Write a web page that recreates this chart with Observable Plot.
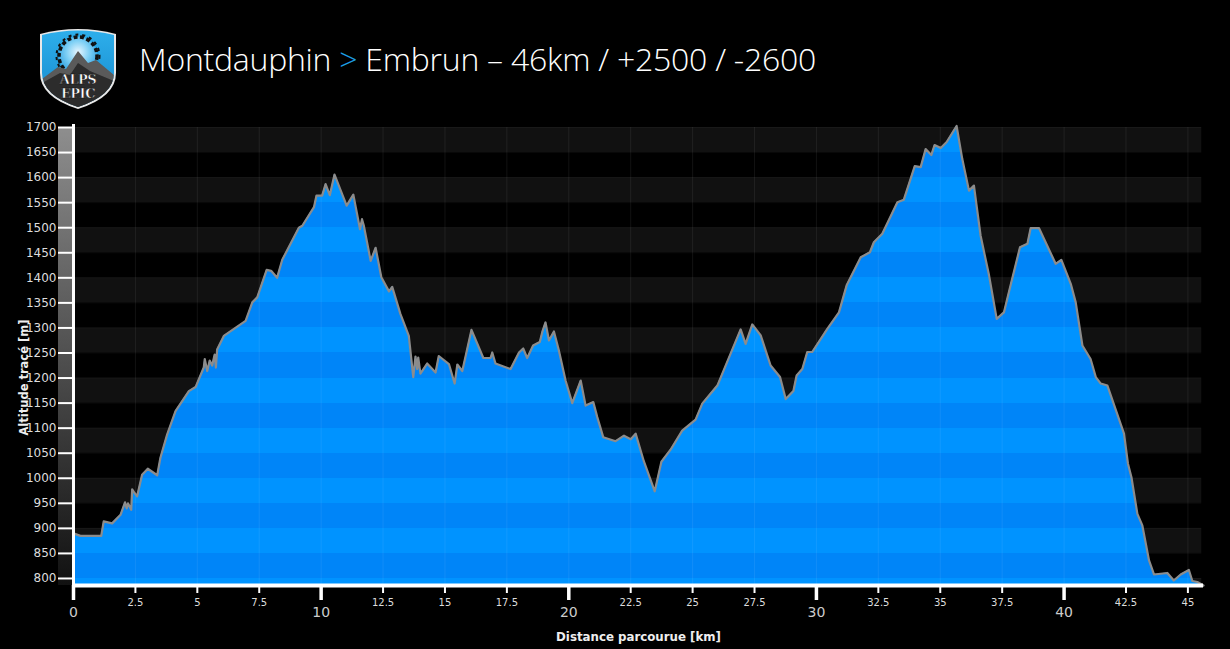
<!DOCTYPE html>
<html>
<head>
<meta charset="utf-8">
<script src="https://cdn.jsdelivr.net/npm/d3@7"></script>
<script src="https://cdn.jsdelivr.net/npm/@observablehq/plot@0.6"></script>
<style>
  html, body { margin: 0; padding: 0; background: #000; }
  #wrap { position: relative; width: 1230px; height: 649px; background: #000; overflow: hidden; }
  #title { position: absolute; left: 139px; top: 43px; font-family: "Open Sans", sans-serif; font-weight: 300; font-size: 32px; color: #fff; white-space: nowrap; line-height: 1; letter-spacing: -0.25px; }
  #title .gt { color: #1d9ee4; }
  #logo { position: absolute; left: 38px; top: 27px; }
  #chart { position: absolute; left: 0; top: 0; }
</style>
</head>
<body>
<div id="wrap">
  <div id="chart"></div>
  <svg id="logo" width="80" height="82" viewBox="0 0 80 82">
    <defs>
      <linearGradient id="lgBlue" x1="0" y1="0" x2="0" y2="1">
        <stop offset="0" stop-color="#2fb0ec"/>
        <stop offset="1" stop-color="#1488cc"/>
      </linearGradient>
      <radialGradient id="lgSky" cx="0.5" cy="0.4" r="0.6">
        <stop offset="0" stop-color="#e8f6ff"/>
        <stop offset="0.5" stop-color="#7fd0f5"/>
        <stop offset="1" stop-color="#2a9fe0"/>
      </radialGradient>
      <clipPath id="shieldClip">
        <path d="M4,8 Q40,-1 76,8 L76,46 Q76,68 40,80 Q4,68 4,46 Z"/>
      </clipPath>
    </defs>
    <path d="M2,7 Q40,-3 78,7 L78,46 Q78,70 40,82 Q2,70 2,46 Z" fill="#e8e8e8"/>
    <g clip-path="url(#shieldClip)">
      <rect x="0" y="0" width="80" height="82" fill="url(#lgBlue)"/>
      <circle cx="40" cy="29" r="19" fill="url(#lgSky)"/>
      <circle cx="40" cy="29" r="19" fill="none" stroke="#111" stroke-width="3.5" stroke-dasharray="4 2.5"/>
      <circle cx="40" cy="29" r="21.5" fill="none" stroke="#111" stroke-width="2" stroke-dasharray="3 4"/>
      <path d="M4,52 L20,40 L28,42 L40,24 L50,36 L58,33 L76,48 L76,82 L4,82 Z" fill="#5a5a5a"/>
      <path d="M4,56 L22,46 L32,48 L40,36 L52,44 L76,54 L76,82 L4,82 Z" fill="#2c2c2c"/>
    </g>
    <text x="40" y="57" text-anchor="middle" font-family="DejaVu Serif, serif" font-weight="bold" font-size="13" fill="#fff" stroke="#111" stroke-width="0.5" letter-spacing="-0.5">ALPS</text>
    <text x="40" y="71" text-anchor="middle" font-family="DejaVu Serif, serif" font-weight="bold" font-size="13" fill="#fff" stroke="#111" stroke-width="0.5" letter-spacing="-0.5">EPIC</text>
  </svg>
  <div id="title">Montdauphin <span class="gt">&gt;</span> Embrun – 46km / +2500 / -2600</div>
</div>
<script>
const km = [0, 0.28, 1.12, 1.22, 1.56, 1.9, 2.08, 2.15, 2.2, 2.33, 2.37, 2.45, 2.57, 2.77, 3.0, 3.38, 3.51, 3.78, 4.12, 4.66, 4.93,
  5.26, 5.3, 5.4, 5.5, 5.6, 5.7, 5.75, 5.8, 6.07, 6.95, 7.22, 7.42, 7.8, 7.98, 8.22, 8.43, 9.1, 9.24, 9.71, 9.81, 10.04,
  10.18, 10.35, 10.54, 11.03, 11.3, 11.57, 11.65, 11.72, 12.0, 12.2, 12.43, 12.74, 12.87, 13.2, 13.54, 13.72, 13.81, 13.88,
  13.92, 14.01, 14.28, 14.62, 14.75, 15.16, 15.39, 15.5, 15.7, 16.07, 16.55, 16.84, 16.91, 17.04, 17.65, 17.99, 18.16, 18.32,
  18.56, 18.83, 18.93, 19.06, 19.2, 19.4, 19.6, 19.87, 20.14, 20.48, 20.68, 20.99, 21.15, 21.39, 21.89, 22.23, 22.5, 22.7,
  23.03, 23.47, 23.74, 24.11, 24.58, 25.12, 25.39, 26.0, 26.94, 27.14, 27.41, 27.75, 28.15, 28.53, 28.76, 29.07, 29.2, 29.43,
  29.63, 29.83, 30.44, 30.91, 31.22, 31.79, 32.16, 32.32, 32.66, 33.27, 33.53, 33.97, 34.21, 34.41, 34.64, 34.77, 35.02, 35.26,
  35.66, 35.89, 36.16, 36.36, 36.63, 36.97, 37.28, 37.57, 37.84, 38.22, 38.52, 38.65, 38.99, 39.66, 39.89, 40.27, 40.47, 40.74,
  41.07, 41.28, 41.48, 41.75, 42.42, 42.58, 42.72, 42.96, 43.16, 43.43, 43.63, 44.17, 44.43, 44.71, 45.04, 45.18, 45.38, 45.63];
const altitude = [890, 885, 885, 914, 910, 927, 952, 940, 950, 937, 978, 972, 964, 1007, 1019, 1006, 1041, 1087, 1134, 1174, 1182,
  1221, 1238, 1214, 1235, 1225, 1247, 1221, 1257, 1284, 1314, 1351, 1361, 1416, 1414, 1400, 1436, 1500, 1504, 1541, 1564, 1564,
  1587, 1565, 1606, 1544, 1566, 1497, 1517, 1505, 1434, 1460, 1401, 1373, 1382, 1328, 1284, 1202, 1243, 1218,
  1241, 1209, 1229, 1211, 1244, 1228, 1189, 1227, 1214, 1296, 1240, 1240, 1251, 1229, 1218, 1251, 1259, 1240,
  1265, 1272, 1292, 1311, 1275, 1293, 1255, 1195, 1150, 1195, 1145, 1152, 1122, 1082, 1074, 1085, 1078, 1089,
  1034, 974, 1033, 1057, 1095, 1117, 1149, 1185, 1297, 1268, 1307, 1285, 1225, 1202, 1158, 1174, 1205, 1218,
  1252, 1252, 1298, 1331, 1385, 1441, 1451, 1471, 1488, 1551, 1556, 1623, 1621, 1657, 1645, 1665, 1659, 1671,
  1703, 1637, 1574, 1584, 1484, 1405, 1318, 1331, 1385, 1461, 1468, 1499, 1499, 1428, 1436, 1388, 1351, 1265,
  1238, 1202, 1189, 1185, 1089, 1029, 1002, 929, 906, 836, 808, 811, 796, 808, 817, 795, 793, 786];

const yTicks = d3.range(800, 1701, 50);
const xMajorTicks = [0, 10, 20, 30, 40];
const xMinorTicks = [2.5, 5, 7.5, 12.5, 15, 17.5, 22.5, 25, 27.5, 32.5, 35, 37.5, 42.5, 45];
const bandLows = [1650, 1550, 1450, 1350, 1250, 1150, 1050, 950, 850, 750];

const Y0 = 786, Y1 = 1700, XMAX = 45.63, BAND_XMAX = 45.56;
const LIGHT = "#0093ff", DARK = "#0085f8";

const profile = km.map((k, i) => ({km: k, alt: altitude[i]}));
const gridX = d3.range(2.5, 45.1, 2.5);

const chart = Plot.plot({
  width: 1230,
  height: 649,
  marginLeft: 73,
  marginRight: 27,
  marginTop: 127,
  marginBottom: 64,
  style: {background: "#000", color: "#fff", overflow: "visible"},
  x: {domain: [0, XMAX]},
  y: {domain: [Y0, Y1]},
  marks: [
    Plot.rect(bandLows, {x1: () => 0, x2: () => BAND_XMAX, y1: d => Math.max(d, Y0), y2: d => d + 50, fill: "#111"}),
    Plot.ruleY(yTicks, {x1: 0, x2: BAND_XMAX, stroke: "#fff", strokeOpacity: 0.035}),
    Plot.areaY(profile, {x: "km", y1: () => Y0, y2: "alt", fill: "url(#fillGrad)", curve: "linear"}),
    Plot.ruleX(gridX, {y1: Y0, y2: Y1, stroke: "#fff", strokeOpacity: 0.07}),
    Plot.lineY(profile, {x: "km", y: "alt", stroke: "#8c8c8c", strokeWidth: 2.2, curve: "linear"}),
    Plot.ruleY([Y0], {stroke: "#fff", strokeWidth: 4}),
    Plot.ruleX([0], {y1: Y0, y2: 1706, stroke: "#fff", strokeWidth: 3}),
    Plot.axisY({ticks: yTicks, tickSize: 15, tickPadding: 2, stroke: "#fff", strokeWidth: 2, fill: "#ddd",
      fontSize: 12, fontFamily: "DejaVu Sans", tickFormat: d => String(d), label: null}),
    Plot.axisX({ticks: xMajorTicks, tickSize: 15, tickPadding: 7, stroke: "#fff", strokeWidth: 3.5, fill: "#ccc",
      fontSize: 14, fontFamily: "DejaVu Sans", tickFormat: d => String(d), label: null}),
    Plot.axisX({ticks: xMinorTicks, tickSize: 8, tickPadding: 5, stroke: "#fff", strokeWidth: 2, fill: "#ddd",
      fontSize: 10, fontFamily: "DejaVu Sans", tickFormat: d => String(d), label: null}),
    Plot.text(["Distance parcourue [km]"], {frameAnchor: "bottom", dy: 55, fill: "#eee", fontSize: 11.8,
      fontWeight: "bold", fontFamily: "DejaVu Sans"}),
    Plot.text(["Altitude tracé [m]"], {x: () => 0, y: () => 1201, dx: -49, rotate: -90, fill: "#eee", fontSize: 11.5,
      fontWeight: "bold", fontFamily: "DejaVu Sans"})
  ]
});

// gradient definitions (band colours inside the fill, grey bar on the y axis)
const yS = chart.scale("y");
const svg = d3.select(chart);
const defs = svg.insert("defs", ":first-child");
const grad = defs.append("linearGradient").attr("id", "fillGrad").attr("gradientUnits", "userSpaceOnUse")
  .attr("x1", 0).attr("x2", 0).attr("y1", yS.apply(Y1)).attr("y2", yS.apply(Y0));
const span = Y1 - Y0;
let bandTop = Y1;
let isLight = true;
while (bandTop > Y0) {
  const bandBot = Math.max(bandTop - 50, Y0);
  const c = isLight ? LIGHT : DARK;
  grad.append("stop").attr("offset", (Y1 - bandTop) / span).attr("stop-color", c);
  grad.append("stop").attr("offset", (Y1 - bandBot) / span).attr("stop-color", c);
  bandTop = bandBot; isLight = !isLight;
}
const gb = defs.append("linearGradient").attr("id", "barGrad").attr("x1", 0).attr("x2", 0).attr("y1", 0).attr("y2", 1);
gb.append("stop").attr("offset", 0).attr("stop-color", "#8e8e8e");
gb.append("stop").attr("offset", 1).attr("stop-color", "#111");
svg.insert("rect", "defs + *")
  .attr("x", 58).attr("width", 14)
  .attr("y", yS.apply(Y1)).attr("height", yS.apply(Y0) - yS.apply(Y1))
  .attr("fill", "url(#barGrad)");

document.getElementById("chart").appendChild(chart);
</script>
</body>
</html>
